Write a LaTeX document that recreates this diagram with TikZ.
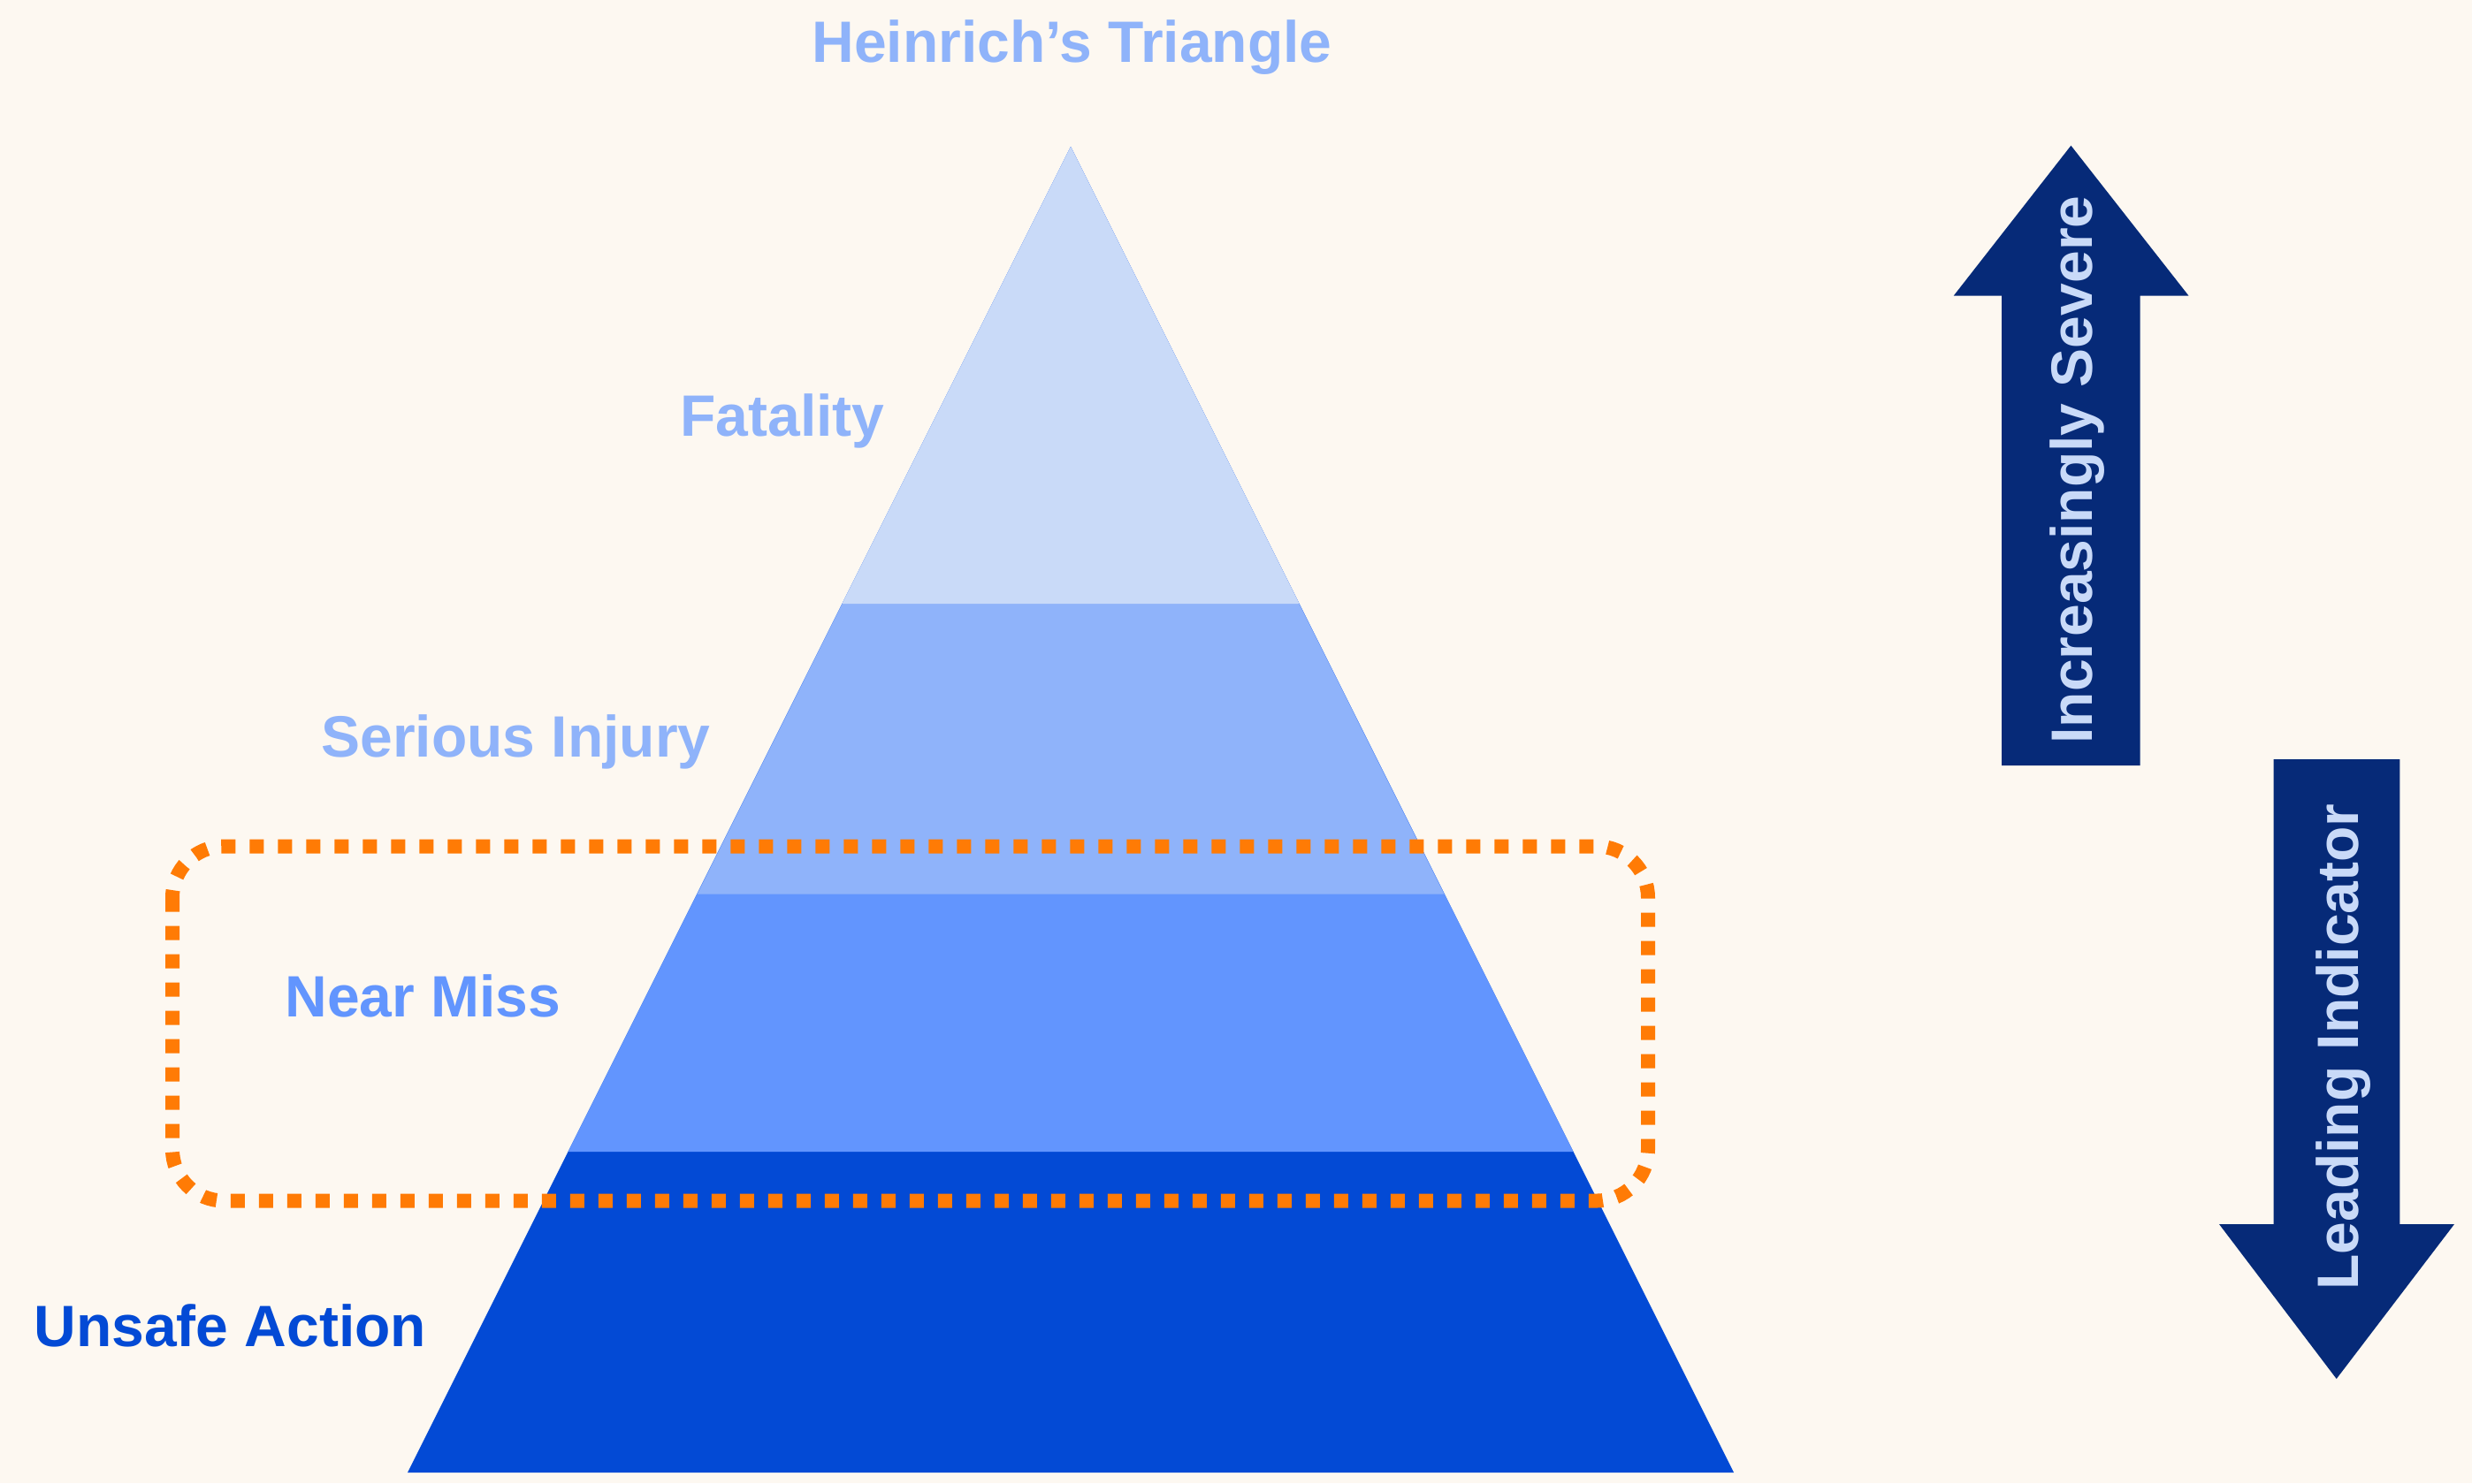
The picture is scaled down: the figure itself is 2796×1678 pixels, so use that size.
\documentclass[tikz,border=0pt]{standalone}
\usepackage{fontspec}
\setmainfont{Liberation Sans}
\definecolor{bgc}{HTML}{FDF8F1}
\definecolor{cFat}{HTML}{C9DAF8}
\definecolor{cSer}{HTML}{8FB3FA}
\definecolor{cNear}{HTML}{6295FE}
\definecolor{cUns}{HTML}{034AD5}
\definecolor{cArrow}{HTML}{062A78}
\definecolor{cOrange}{HTML}{FF7B05}
\begin{document}
\begin{tikzpicture}[x=0.5pt,y=-0.5pt,
  lbl/.style={font=\bfseries\fontsize{33pt}{40pt}\selectfont, inner sep=0pt},
  bigarrow/.style={fill=cArrow},
  dotbox/.style={draw=cOrange, line width=8pt, dash pattern=on 8pt off 8pt, rounded corners=29pt}]
\fill[bgc] (0,0) rectangle (2796,1678);
\useasboundingbox (0,0) rectangle (2796,1678);
% triangle
\coordinate (apex) at (1211,166);
\fill[cUns] (apex) -- (1961,1666) -- (461,1666) -- cycle;
\fill[cNear] (apex) -- (1779.5,1303) -- (642.5,1303) -- cycle;
\fill[cSer] (apex) -- (1633.25,1011.5) -- (788.75,1011.5) -- cycle;
\fill[cFat] (apex) -- (1469.5,683) -- (952.5,683) -- cycle;
% dotted box
\draw[dotbox] (195,957.5) rectangle (1864,1358.5);
% labels
\node[lbl, text=cSer, anchor=base] (title) at (1212.5,70) {Heinrich’s Triangle};
\node[lbl, text=cSer, anchor=base west] (fat) at (769,493) {Fatality};
\node[lbl, text=cSer, anchor=base west] (ser) at (363,856) {Serious Injury};
\node[lbl, text=cNear, anchor=base west] (near) at (322,1150) {Near Miss};
\node[lbl, text=cUns, anchor=base west] (uns) at (38,1523) {Unsafe Action};
% arrows
\fill[bigarrow] (2342.4,164.7) -- (2475.5,334.6) -- (2420.7,334.6) -- (2420.7,866)
  -- (2264,866) -- (2264,334.6) -- (2209.7,334.6) -- cycle;
\fill[bigarrow] (2571.7,859) -- (2714.3,859) -- (2714.3,1385) -- (2776,1385)
  -- (2642.7,1560) -- (2510,1385) -- (2571.7,1385) -- cycle;
\node[lbl, text=cFat, rotate=90, anchor=base] (sev) at (2366,531.5) {Increasingly Severe};
\node[lbl, text=cFat, rotate=90, anchor=base] (lead) at (2667.5,1184.5) {Leading Indicator};
\end{tikzpicture}
\end{document}
